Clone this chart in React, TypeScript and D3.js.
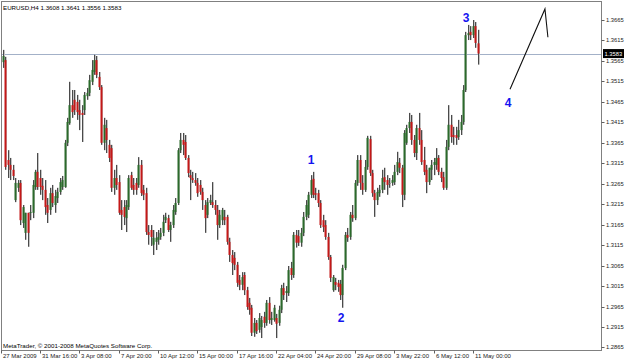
import React from "react";
import * as d3 from "d3";

const opens = [
  1.3562, 1.3567, 1.3323, 1.3311, 1.3299, 1.3225, 1.3255, 1.3267, 1.3169, 1.3145,
  1.3194, 1.3194, 1.3194, 1.3257, 1.3294, 1.3279, 1.3260, 1.3250, 1.3213, 1.3201,
  1.3242, 1.3213, 1.3230, 1.3245, 1.3257, 1.3257, 1.3365, 1.3413, 1.3457, 1.3470,
  1.3465, 1.3445, 1.3438, 1.3445, 1.3479, 1.3487, 1.3514, 1.3538, 1.3567, 1.3526,
  1.3501, 1.3365, 1.3401, 1.3360, 1.3352, 1.3255, 1.3279, 1.3269, 1.3201, 1.3208,
  1.3181, 1.3208, 1.3286, 1.3262, 1.3267, 1.3262, 1.3311, 1.3250, 1.3242, 1.3147,
  1.3152, 1.3116, 1.3123, 1.3128, 1.3135, 1.3145, 1.3176, 1.3181, 1.3152, 1.3164,
  1.3196, 1.3218, 1.3347, 1.3372, 1.3367, 1.3328, 1.3286, 1.3279, 1.3274, 1.3267,
  1.3262, 1.3245, 1.3213, 1.3189, 1.3218, 1.3220, 1.3213, 1.3201, 1.3164, 1.3176,
  1.3184, 1.3184, 1.3123, 1.3091, 1.3084, 1.3067, 1.3030, 1.3018, 1.3042, 1.3005,
  1.2974, 1.2962, 1.2901, 1.2925, 1.2908, 1.2915, 1.2940, 1.2925, 1.2974, 1.2932,
  1.2932, 1.2937, 1.2925, 1.2957, 1.3010, 1.2998, 1.2998, 1.3059, 1.3042, 1.3140,
  1.3137, 1.3121, 1.3145, 1.3184, 1.3189, 1.3238, 1.3277, 1.3242, 1.3242, 1.3218,
  1.3176, 1.3164, 1.3135, 1.3086, 1.3005, 1.3025, 1.3023, 1.3020, 1.2993, 1.3059,
  1.3140, 1.3135, 1.3189, 1.3181, 1.3267, 1.3323, 1.3267, 1.3250, 1.3306, 1.3374,
  1.3291, 1.3242, 1.3225, 1.3242, 1.3250, 1.3281, 1.3274, 1.3267, 1.3267, 1.3269,
  1.3294, 1.3316, 1.3304, 1.3238, 1.3365, 1.3401, 1.3416, 1.3372, 1.3340, 1.3401,
  1.3372, 1.3323, 1.3299, 1.3269, 1.3299, 1.3311, 1.3311, 1.3328, 1.3294, 1.3281,
  1.3255, 1.3355, 1.3409, 1.3384, 1.3384, 1.3379, 1.3396, 1.3416, 1.3494, 1.3628,
  1.3636, 1.3628, 1.3650, 1.3608,
];
const highs = [
  1.3592, 1.3575, 1.3347, 1.3328, 1.3311, 1.3279, 1.3274, 1.3274, 1.3213, 1.3194,
  1.3194, 1.3213, 1.3274, 1.3299, 1.3340, 1.3299, 1.3279, 1.3274, 1.3230, 1.3255,
  1.3262, 1.3250, 1.3255, 1.3279, 1.3284, 1.3372, 1.3426, 1.3514, 1.3494, 1.3494,
  1.3482, 1.3470, 1.3457, 1.3489, 1.3499, 1.3531, 1.3567, 1.3580, 1.3577, 1.3538,
  1.3506, 1.3426, 1.3421, 1.3372, 1.3360, 1.3299, 1.3311, 1.3286, 1.3225, 1.3225,
  1.3225, 1.3286, 1.3294, 1.3279, 1.3279, 1.3330, 1.3323, 1.3262, 1.3255, 1.3164,
  1.3164, 1.3152, 1.3147, 1.3152, 1.3157, 1.3189, 1.3194, 1.3189, 1.3172, 1.3213,
  1.3230, 1.3352, 1.3389, 1.3389, 1.3384, 1.3335, 1.3299, 1.3294, 1.3291, 1.3279,
  1.3274, 1.3255, 1.3225, 1.3230, 1.3238, 1.3269, 1.3225, 1.3213, 1.3201, 1.3206,
  1.3201, 1.3189, 1.3133, 1.3103, 1.3098, 1.3074, 1.3042, 1.3049, 1.3049, 1.3013,
  1.2986, 1.2969, 1.2937, 1.2932, 1.2949, 1.2942, 1.2952, 1.2981, 1.2988, 1.2952,
  1.2969, 1.2947, 1.2967, 1.3018, 1.3023, 1.3015, 1.3064, 1.3074, 1.3147, 1.3152,
  1.3152, 1.3157, 1.3196, 1.3225, 1.3245, 1.3286, 1.3294, 1.3255, 1.3250, 1.3225,
  1.3189, 1.3176, 1.3145, 1.3091, 1.3042, 1.3035, 1.3030, 1.3030, 1.3067, 1.3147,
  1.3157, 1.3196, 1.3213, 1.3274, 1.3335, 1.3335, 1.3286, 1.3323, 1.3382, 1.3382,
  1.3299, 1.3250, 1.3255, 1.3262, 1.3299, 1.3304, 1.3286, 1.3279, 1.3286, 1.3311,
  1.3343, 1.3328, 1.3311, 1.3396, 1.3409, 1.3438, 1.3433, 1.3384, 1.3409, 1.3438,
  1.3396, 1.3355, 1.3311, 1.3304, 1.3323, 1.3328, 1.3352, 1.3335, 1.3304, 1.3294,
  1.3372, 1.3457, 1.3433, 1.3404, 1.3404, 1.3421, 1.3433, 1.3506, 1.3636, 1.3653,
  1.3650, 1.3665, 1.3660, 1.3641,
];
const lows = [
  1.3548, 1.3299, 1.3279, 1.3274, 1.3274, 1.3220, 1.3245, 1.3164, 1.3157, 1.3128,
  1.3111, 1.3176, 1.3181, 1.3250, 1.3250, 1.3238, 1.3225, 1.3189, 1.3169, 1.3189,
  1.3208, 1.3194, 1.3218, 1.3238, 1.3250, 1.3255, 1.3357, 1.3409, 1.3426, 1.3433,
  1.3421, 1.3396, 1.3367, 1.3433, 1.3470, 1.3479, 1.3506, 1.3531, 1.3523, 1.3494,
  1.3360, 1.3347, 1.3340, 1.3318, 1.3245, 1.3238, 1.3250, 1.3189, 1.3152, 1.3164,
  1.3147, 1.3201, 1.3250, 1.3238, 1.3238, 1.3255, 1.3235, 1.3225, 1.3140, 1.3116,
  1.3113, 1.3091, 1.3103, 1.3116, 1.3128, 1.3137, 1.3169, 1.3147, 1.3123, 1.3157,
  1.3189, 1.3213, 1.3340, 1.3335, 1.3323, 1.3281, 1.3225, 1.3267, 1.3260, 1.3233,
  1.3238, 1.3201, 1.3145, 1.3181, 1.3213, 1.3206, 1.3189, 1.3128, 1.3157, 1.3164,
  1.3164, 1.3116, 1.3074, 1.3042, 1.3054, 1.3013, 1.3005, 1.3005, 1.2993, 1.2957,
  1.2945, 1.2893, 1.2891, 1.2898, 1.2901, 1.2888, 1.2913, 1.2918, 1.2923, 1.2920,
  1.2928, 1.2888, 1.2918, 1.2949, 1.2981, 1.2976, 1.2991, 1.3030, 1.3035, 1.3109,
  1.3113, 1.3111, 1.3137, 1.3176, 1.3181, 1.3230, 1.3230, 1.3225, 1.3208, 1.3157,
  1.3147, 1.3128, 1.3079, 1.3025, 1.3001, 1.3005, 1.3001, 1.2981, 1.2962, 1.3054,
  1.3123, 1.3128, 1.3172, 1.3176, 1.3260, 1.3250, 1.3238, 1.3245, 1.3299, 1.3284,
  1.3233, 1.3184, 1.3213, 1.3233, 1.3242, 1.3250, 1.3238, 1.3255, 1.3260, 1.3262,
  1.3286, 1.3291, 1.3208, 1.3225, 1.3360, 1.3389, 1.3360, 1.3330, 1.3323, 1.3360,
  1.3311, 1.3286, 1.3242, 1.3262, 1.3274, 1.3286, 1.3299, 1.3286, 1.3269, 1.3250,
  1.3250, 1.3347, 1.3365, 1.3360, 1.3360, 1.3372, 1.3384, 1.3409, 1.3489, 1.3616,
  1.3616, 1.3621, 1.3597, 1.3556,
];
const closes = [
  1.3577, 1.3306, 1.3311, 1.3299, 1.3284, 1.3267, 1.3267, 1.3176, 1.3208, 1.3194,
  1.3145, 1.3196, 1.3262, 1.3294, 1.3257, 1.3257, 1.3250, 1.3208, 1.3194, 1.3242,
  1.3218, 1.3235, 1.3245, 1.3269, 1.3274, 1.3365, 1.3416, 1.3457, 1.3440, 1.3445,
  1.3440, 1.3433, 1.3433, 1.3482, 1.3487, 1.3518, 1.3543, 1.3567, 1.3531, 1.3501,
  1.3365, 1.3409, 1.3372, 1.3328, 1.3255, 1.3279, 1.3262, 1.3194, 1.3189, 1.3184,
  1.3213, 1.3279, 1.3255, 1.3250, 1.3250, 1.3311, 1.3242, 1.3238, 1.3147, 1.3140,
  1.3135, 1.3133, 1.3133, 1.3135, 1.3145, 1.3172, 1.3184, 1.3152, 1.3164, 1.3201,
  1.3218, 1.3347, 1.3372, 1.3360, 1.3328, 1.3291, 1.3279, 1.3274, 1.3267, 1.3242,
  1.3245, 1.3225, 1.3181, 1.3220, 1.3225, 1.3213, 1.3201, 1.3164, 1.3189, 1.3201,
  1.3176, 1.3123, 1.3091, 1.3071, 1.3067, 1.3023, 1.3018, 1.3037, 1.3005, 1.2964,
  1.2957, 1.2901, 1.2925, 1.2905, 1.2937, 1.2932, 1.2925, 1.2974, 1.2932, 1.2937,
  1.2962, 1.2923, 1.2957, 1.3010, 1.2993, 1.3003, 1.3054, 1.3042, 1.3140, 1.3121,
  1.3121, 1.3145, 1.3184, 1.3213, 1.3238, 1.3274, 1.3238, 1.3238, 1.3218, 1.3164,
  1.3159, 1.3135, 1.3086, 1.3035, 1.3037, 1.3018, 1.3013, 1.2993, 1.3059, 1.3140,
  1.3133, 1.3189, 1.3181, 1.3267, 1.3323, 1.3267, 1.3250, 1.3306, 1.3377, 1.3291,
  1.3242, 1.3225, 1.3245, 1.3250, 1.3279, 1.3269, 1.3262, 1.3267, 1.3274, 1.3294,
  1.3318, 1.3304, 1.3238, 1.3389, 1.3401, 1.3416, 1.3372, 1.3340, 1.3401, 1.3372,
  1.3318, 1.3294, 1.3269, 1.3304, 1.3311, 1.3318, 1.3328, 1.3294, 1.3279, 1.3255,
  1.3355, 1.3409, 1.3379, 1.3379, 1.3377, 1.3396, 1.3416, 1.3494, 1.3628, 1.3633,
  1.3628, 1.3650, 1.3609, 1.3583,
];

const timeLabels = [
  "27 Mar 2009", "31 Mar 16:00", "3 Apr 08:00", "7 Apr 20:00", "10 Apr 12:00",
  "15 Apr 00:00", "17 Apr 16:00", "22 Apr 04:00", "24 Apr 20:00", "29 Apr 08:00",
  "3 May 22:00", "6 May 12:00", "11 May 00:00",
];
const timeLabelBars = [-1, 15, 31, 47, 63, 79, 95, 111, 127, 143, 159, 175, 191];

const priceTicks = [
  1.2865, 1.2915, 1.2965, 1.3015, 1.3065, 1.3115, 1.3165, 1.3215, 1.3265,
  1.3315, 1.3365, 1.3415, 1.3465, 1.3515, 1.3565, 1.3615, 1.3665,
];

const symbolTitle = "EURUSD,H4";
const lastPrice = 1.3583;
const copyright = "MetaTrader, \u00a9 2001-2008 MetaQuotes Software Corp.";

const waveLabels = ["1", "2", "3", "4"];
const waveBars = [125.2, 137.4, 188.2, 205.3];
const wavePrices = [1.3323, 1.2937, 1.367, 1.3462];

const projBars = [206.1, 220.3, 221.5];
const projPrices = [1.3496, 1.3692, 1.3623];

const W = 625;
const H = 361;
const frame = { left: 1.5, top: 1.5, right: 601.5, bottom: 350.5 };
const FONT = "'Liberation Sans', Arial, sans-serif";

export default function App() {
  const x = d3.scaleLinear().domain([-1, 193]).range([0.54, 477.8]);
  const y = d3.scaleLinear().domain([1.2915, 1.3665]).range([327, 20]);
  const fmt = d3.format(".4f");
  const n = opens.length;
  const bodyW = 2;

  const candles = d3.range(n).map((i) => {
    const o = opens[i];
    const c = closes[i];
    const cx = Math.round(x(i)) + 0.5;
    const yTop = y(Math.max(o, c));
    const yBot = y(Math.min(o, c));
    const bull = c > o;
    const doji = Math.abs(c - o) < 0.00015;
    const fill = doji ? "#6b6b6b" : bull ? "#2b6a2b" : "#c41818";
    return (
      <g key={i}>
        <line x1={cx + 1} x2={cx + 1} y1={y(highs[i])} y2={y(lows[i])} stroke="#c4c4c4" strokeWidth={1} />
        <line x1={cx} x2={cx} y1={y(highs[i])} y2={y(lows[i])} stroke="#4a4a4a" strokeWidth={1} />
        <rect
          x={cx - bodyW / 2}
          y={yTop}
          width={bodyW}
          height={Math.max(1, yBot - yTop)}
          fill={fill}
        />
      </g>
    );
  });

  const projLine = d3
    .line<number>()
    .x((_, i) => x(projBars[i]))
    .y((p) => y(p))(projPrices);

  return (
    <svg
      width={W}
      height={H}
      style={{ position: "absolute", left: 0, top: 0, background: "#ffffff" }}
    >
      <rect x={0} y={0} width={W} height={H} fill="#ffffff" />
      <defs>
        <clipPath id="plot">
          <rect x={frame.left} y={frame.top} width={frame.right - frame.left} height={frame.bottom - frame.top} />
        </clipPath>
      </defs>

      <g clipPath="url(#plot)">
        <line
          x1={frame.left}
          x2={frame.right}
          y1={Math.round(y(lastPrice)) + 0.5}
          y2={Math.round(y(lastPrice)) + 0.5}
          stroke="#a3b1c8"
          strokeWidth={1}
        />
        {candles}
        <path d={projLine || ""} fill="none" stroke="#111" strokeWidth={1.1} />
        {waveLabels.map((t, i) => (
          <text
            key={t}
            x={x(waveBars[i])}
            y={y(wavePrices[i])}
            textAnchor="middle"
            dominantBaseline="central"
            fontFamily={FONT}
            fontWeight="bold"
            fontSize={12}
            fill="#1414f0"
          >
            {t}
          </text>
        ))}
      </g>

      <rect
        x={frame.left}
        y={frame.top}
        width={frame.right - frame.left}
        height={frame.bottom - frame.top}
        fill="none"
        stroke="#808080"
        strokeWidth={1}
      />

      <text x={3} y={10} fontFamily={FONT} fontSize={6.2} fill="#000">
        {symbolTitle + "  " + [opens[n - 1], highs[n - 1], lows[n - 1], closes[n - 1]].map(fmt).join(" ")}
      </text>

      <text x={3} y={348} fontFamily={FONT} fontSize={6.2} fill="#000">
        {copyright}
      </text>

      {priceTicks.map((p) => (
        <g key={p}>
          <line x1={frame.right} x2={frame.right + 3} y1={Math.round(y(p)) + 0.5} y2={Math.round(y(p)) + 0.5} stroke="#606060" />
          <text x={606} y={y(p)} dominantBaseline="central" fontFamily={FONT} fontSize={5.8} fill="#222">
            {fmt(p)}
          </text>
        </g>
      ))}

      <rect x={603} y={y(lastPrice) - 4.5} width={21} height={9} fill="#000" />
      <text x={604.5} y={y(lastPrice)} dominantBaseline="central" fontFamily={FONT} fontSize={5.8} fill="#fff">
        {fmt(lastPrice)}
      </text>

      {timeLabels.map((t, i) => {
        const tx = Math.round(x(timeLabelBars[i])) + 0.5;
        return (
          <g key={t}>
            <line x1={tx} x2={tx} y1={frame.bottom} y2={frame.bottom + 3} stroke="#606060" />
            <text x={tx + 1.5} y={358} fontFamily={FONT} fontSize={6} fill="#222">
              {t}
            </text>
          </g>
        );
      })}
    </svg>
  );
}
